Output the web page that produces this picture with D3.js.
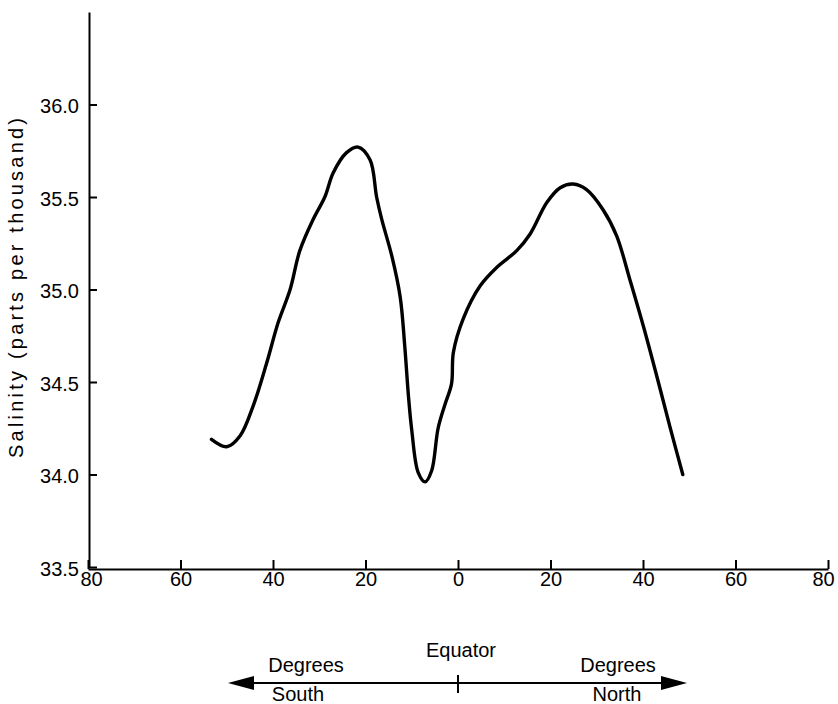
<!DOCTYPE html>
<html><head><meta charset="utf-8">
<script src="https://cdn.jsdelivr.net/npm/d3@7"></script>
<style>
body{margin:0;background:#fff;}
svg text{font-family:"Liberation Sans",Arial,Helvetica,sans-serif;fill:#000;}
</style></head>
<body><svg id="c" width="838" height="704"></svg>
<script>
// Latitude (negative = South, positive = North)
const latitude = [-53.3,-50.0,-47.1,-44.3,-41.4,-38.9,-36.3,-34.2,-31.3,-28.8,-27.0,-24.1,-21.6,-19.0,-17.6,-16.5,-14.3,-12.5,-11.5,-10.7,-10.0,-8.6,-7.1,-5.7,-4.3,-2.8,-1.4,-1.0,1.1,4.8,8.4,12.7,15.6,19.2,22.1,24.9,27.8,31.4,34.3,37.2,40.1,43.0,45.8,48.6];
const salinity = [34.19,34.15,34.21,34.37,34.60,34.82,35.00,35.21,35.38,35.50,35.63,35.74,35.77,35.70,35.50,35.38,35.18,34.96,34.69,34.42,34.24,34.01,33.96,34.02,34.25,34.38,34.49,34.66,34.84,35.02,35.12,35.21,35.30,35.47,35.55,35.57,35.54,35.43,35.29,35.05,34.80,34.53,34.26,34.00];
const xTicks = [-80,-60,-40,-20,0,20,40,60,80];
const yTicks = [33.5,34.0,34.5,35.0,35.5,36.0];
const yTitle = "Salinity (parts per thousand)";
const equatorLabel = "Equator";
const southLabels = ["Degrees","South"];
const northLabels = ["Degrees","North"];

const svg = d3.select("#c");
const x = d3.scaleLinear().domain([-80,80]).range([88,828]);
const y = d3.scaleLinear().domain([33.5,36.5]).range([567,12]);

// x axis
const xa = svg.append("g").attr("transform","translate(0,569)")
  .call(d3.axisBottom(x).tickValues(xTicks).tickSize(-9).tickSizeOuter(0).tickPadding(3).tickFormat(d=>Math.abs(d)));
// y axis
const ya = svg.append("g").attr("transform","translate(89,0)")
  .call(d3.axisLeft(y).tickValues(yTicks).tickSize(-8).tickSizeOuter(0).tickPadding(10).tickFormat(d3.format(".1f")));
[xa,ya].forEach(g=>{
  g.select(".domain").attr("stroke","#000").attr("stroke-width",2);
  g.selectAll(".tick line").attr("stroke","#000").attr("stroke-width",2);
  g.selectAll(".tick text").attr("font-size",20).attr("fill","#000").style("font-family",'"Liberation Sans",Arial,sans-serif');
});
ya.selectAll(".tick text").attr("dy","0.4em");
xa.selectAll(".tick text").filter(d=>d===80).attr("dx",-5);
xa.selectAll(".tick text").filter(d=>d===-80).attr("dx",3);

// y title
svg.append("text").attr("transform","translate(23,288) rotate(-90)")
  .attr("text-anchor","middle").attr("font-size",20)
  .attr("textLength",340).attr("lengthAdjust","spacing").text(yTitle);

// curve
const line = d3.line().x((d,i)=>x(latitude[i])).y(d=>y(d)).curve(d3.curveCatmullRom.alpha(0.5));
svg.append("path").datum(salinity).attr("d",line)
  .attr("fill","none").attr("stroke","#000").attr("stroke-width",3.4)
  .attr("stroke-linecap","round").attr("stroke-linejoin","round");

// bottom annotation
const ay = 683;
const ax0 = 228, ax1 = 687;
svg.append("line").attr("x1",ax0+20).attr("x2",ax1-20).attr("y1",ay).attr("y2",ay)
  .attr("stroke","#000").attr("stroke-width",2);
svg.append("path").attr("d",`M${ax0},${ay} L${ax0+26},${ay-7} L${ax0+26},${ay+7} Z`).attr("fill","#000");
svg.append("path").attr("d",`M${ax1},${ay} L${ax1-26},${ay-7} L${ax1-26},${ay+7} Z`).attr("fill","#000");
svg.append("line").attr("x1",x(0)).attr("x2",x(0)).attr("y1",675).attr("y2",693)
  .attr("stroke","#000").attr("stroke-width",2);
svg.append("text").attr("x",x(0)+3).attr("y",657).attr("text-anchor","middle").attr("font-size",20).text(equatorLabel);
svg.append("text").attr("x",306).attr("y",672).attr("text-anchor","middle").attr("font-size",20).text(southLabels[0]);
svg.append("text").attr("x",298).attr("y",701).attr("text-anchor","middle").attr("font-size",20).text(southLabels[1]);
svg.append("text").attr("x",618).attr("y",672).attr("text-anchor","middle").attr("font-size",20).text(northLabels[0]);
svg.append("text").attr("x",617).attr("y",701).attr("text-anchor","middle").attr("font-size",20).text(northLabels[1]);
</script></body></html>
